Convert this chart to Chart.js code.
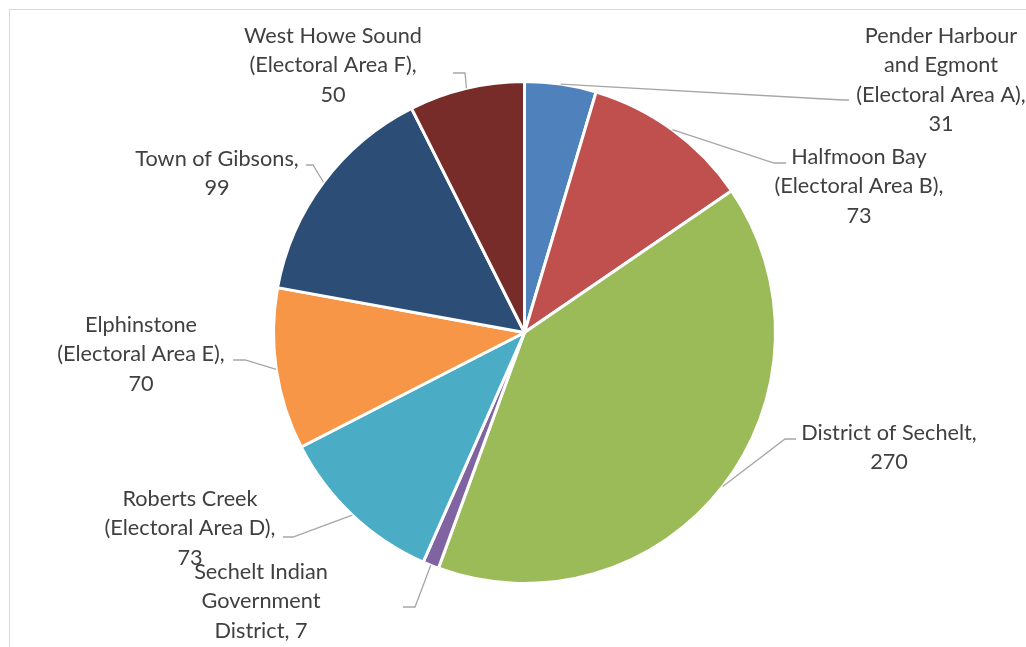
<!DOCTYPE html>
<html>
<head>
<meta charset="utf-8">
<script src="https://cdn.jsdelivr.net/npm/chart.js@4/dist/chart.umd.min.js"></script>
<style>
  html, body { margin: 0; padding: 0; background: #fff; }
  #wrap { width: 1026px; height: 647px; position: relative; }
</style>
</head>
<body>
<div id="wrap"><canvas id="pieChart" width="1026" height="647"></canvas></div>
<script>
// areas of the regional district and their counts
const areas = [
  "Pender Harbour and Egmont (Electoral Area A),",
  "Halfmoon Bay (Electoral Area B),",
  "District of Sechelt,",
  "Sechelt Indian Government District,",
  "Roberts Creek (Electoral Area D),",
  "Elphinstone (Electoral Area E),",
  "Town of Gibsons,",
  "West Howe Sound (Electoral Area F),"
];
const counts = [31, 73, 270, 7, 73, 70, 99, 50];
const sliceColors = ["#4F81BD", "#C0504D", "#9BBB59", "#8064A2", "#4BACC6", "#F79646", "#2C4D75", "#772C2A"];

// label placement: words per line, text centre, leader elbow and end
const labelWords = [[2, 2, 3, 1], [2, 3, 1], [3, 1], [2, 1, 2], [2, 3, 1], [1, 3, 1], [3, 1], [3, 3, 1]];
const labelPos = [[941, 36], [859, 157], [889, 433], [261, 572], [190, 499], [141, 325], [217, 159], [333, 36]];
const leaderElbow = [[843, 100], [774, 163], [785, 439], [415, 607], [293, 537], [245, 360], [313, 165], [465, 73]];
const leaderEnd = [[849, 100], [786, 163], [796, 439], [403, 607], [283, 537], [233, 360], [306, 165], [453, 73]];

const LINE_H = 29.3;

const calloutPlugin = {
  id: 'callouts',
  beforeDraw(chart) {
    const ctx = chart.ctx;
    ctx.save();
    ctx.strokeStyle = '#D9D9D9';
    ctx.lineWidth = 1;
    ctx.strokeRect(9.5, 9.5, 1200, 1000);
    ctx.restore();
  },
  afterDraw(chart) {
    const ctx = chart.ctx;
    const arcs = chart.getDatasetMeta(0).data;
    ctx.save();
    arcs.forEach((arc, i) => {
      const mid = (arc.startAngle + arc.endAngle) / 2;
      const sx = arc.x + Math.cos(mid) * arc.outerRadius;
      const sy = arc.y + Math.sin(mid) * arc.outerRadius;
      ctx.strokeStyle = '#A6A6A6';
      ctx.lineWidth = 1.3;
      ctx.beginPath();
      ctx.moveTo(sx, sy);
      ctx.lineTo(leaderElbow[i][0], leaderElbow[i][1]);
      ctx.lineTo(leaderEnd[i][0], leaderEnd[i][1]);
      ctx.stroke();
    });
    ctx.font = '21.7px Lato';
    ctx.fillStyle = '#404040';
    ctx.textAlign = 'center';
    ctx.textBaseline = 'middle';
    arcs.forEach((arc, i) => {
      const words = (areas[i] + ' ' + counts[i]).split(' ');
      let k = 0;
      labelWords[i].forEach((n, j) => {
        const line = words.slice(k, k + n).join(' ');
        k += n;
        ctx.fillText(line, labelPos[i][0], labelPos[i][1] + j * LINE_H);
      });
    });
    ctx.restore();
  }
};

new Chart(document.getElementById('pieChart'), {
  type: 'pie',
  data: {
    labels: areas,
    datasets: [{
      data: counts,
      backgroundColor: sliceColors,
      borderColor: '#FFFFFF',
      borderWidth: 3
    }]
  },
  options: {
    responsive: false,
    animation: false,
    layout: { padding: { top: 80, bottom: 62, left: 100, right: 77 } },
    plugins: {
      legend: { display: false },
      tooltip: { enabled: false }
    }
  },
  plugins: [calloutPlugin]
});
</script>
</body>
</html>
